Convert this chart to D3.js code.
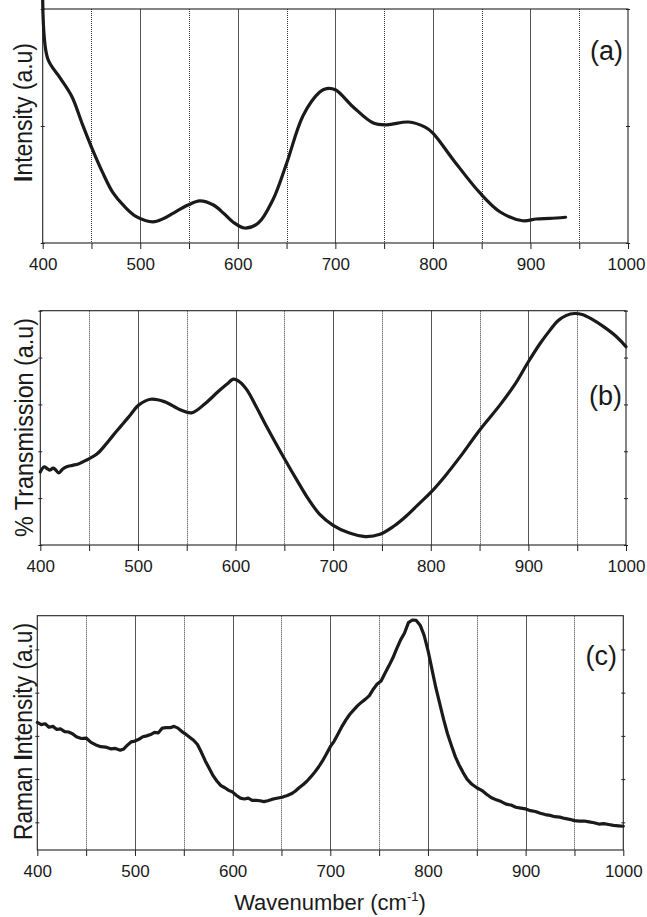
<!DOCTYPE html>
<html>
<head>
<meta charset="utf-8">
<script src="https://cdn.jsdelivr.net/npm/d3@7"></script>
<style>
  body { margin: 0; background: #fff; }
  svg { display: block; font-family: "Liberation Sans", Arial, sans-serif; }
</style>
</head>
<body>
<div id="chart"></div>
<script>
// ---- data ----
const xTicks = [400, 450, 500, 550, 600, 650, 700, 750, 800, 850, 900, 950, 1000];
const xLabels = [400, 500, 600, 700, 800, 900, 1000];

// (a) intensity, arbitrary units, y ticks 0..2
const yTicksA = [0, 1, 2];
const seriesA = [
  [400, 2.08], [405, 1.58], [418, 1.41], [430, 1.25], [440, 1.03], [450, 0.82],
  [461, 0.61], [472, 0.43], [484, 0.31], [496, 0.225], [513, 0.18], [524, 0.21],
  [534, 0.256], [548, 0.32], [561, 0.36], [575, 0.325], [586, 0.25], [595, 0.18],
  [607, 0.128], [621, 0.17], [636, 0.37], [650, 0.68], [667, 1.09], [684, 1.29],
  [691, 1.32], [700, 1.31], [718, 1.165], [739, 1.025], [753, 1.01], [775, 1.034],
  [792, 0.99], [800, 0.94], [821, 0.71], [848, 0.43], [869, 0.265], [892, 0.19],
  [906, 0.205], [920, 0.21], [936, 0.22]
];

// (b) % transmission, y ticks 0..5
const yTicksB = [0, 1, 2, 3, 4, 5];
const seriesB = [
  [400, 1.56], [404, 1.67], [407, 1.63], [410, 1.60], [413, 1.64], [415, 1.62],
  [419, 1.54], [423, 1.62], [427, 1.67], [433, 1.70], [439, 1.73], [448, 1.82],
  [458, 1.94], [466, 2.12], [475, 2.35], [484, 2.57], [492, 2.77], [501, 2.99],
  [513, 3.11], [527, 3.06], [544, 2.88], [555, 2.82], [569, 3.02], [582, 3.27],
  [591, 3.43], [598, 3.54], [605, 3.47], [612, 3.30], [620, 3.00], [630, 2.60],
  [651, 1.81], [663, 1.38], [674, 1.00], [686, 0.66], [700, 0.42], [716, 0.26],
  [733, 0.18], [748, 0.23], [762, 0.40], [775, 0.62], [790, 0.92], [799, 1.10],
  [815, 1.48], [830, 1.88], [850, 2.45], [871, 2.99], [886, 3.42], [900, 3.91],
  [912, 4.30], [922, 4.58], [930, 4.78], [939, 4.90], [947, 4.94], [955, 4.92],
  [965, 4.82], [977, 4.66], [990, 4.45], [1000, 4.23]
];

// (c) Raman intensity, y ticks 1..5
const yTicksC = [1, 2, 3, 4, 5];
const seriesC = [
  [400, 3.31], [404, 3.26], [408, 3.28], [412, 3.20], [416, 3.22], [420, 3.15],
  [424, 3.16], [428, 3.10], [432, 3.09], [436, 3.05], [440, 2.98], [445, 2.94],
  [450, 2.95], [455, 2.85], [460, 2.79], [465, 2.75], [470, 2.74], [475, 2.70],
  [480, 2.71], [485, 2.67], [488, 2.69], [492, 2.78], [496, 2.86], [500, 2.88],
  [504, 2.92], [508, 2.98], [512, 3.00], [516, 3.03], [520, 3.08], [524, 3.07],
  [528, 3.18], [532, 3.19], [536, 3.19], [540, 3.22], [544, 3.18], [548, 3.10],
  [552, 3.04], [556, 2.97], [560, 2.90], [564, 2.80], [568, 2.62], [572, 2.42],
  [576, 2.25], [580, 2.08], [584, 1.95], [588, 1.85], [592, 1.80], [596, 1.74],
  [600, 1.70], [604, 1.62], [608, 1.56], [612, 1.54], [616, 1.56], [620, 1.51],
  [624, 1.51], [628, 1.50], [632, 1.48], [636, 1.50], [640, 1.53], [644, 1.55],
  [648, 1.57], [652, 1.59], [656, 1.62], [660, 1.66], [664, 1.72], [668, 1.80],
  [672, 1.87], [676, 1.95], [680, 2.05], [684, 2.16], [688, 2.28], [692, 2.42],
  [696, 2.58], [700, 2.75], [704, 2.88], [708, 3.05], [712, 3.22], [716, 3.37],
  [720, 3.50], [724, 3.60], [728, 3.70], [732, 3.78], [736, 3.85], [740, 3.93],
  [744, 4.08], [748, 4.20], [752, 4.27], [756, 4.45], [760, 4.62], [764, 4.80],
  [768, 5.02], [772, 5.22], [776, 5.38], [780, 5.62], [784, 5.68], [788, 5.67],
  [792, 5.56], [796, 5.33], [800, 4.98], [804, 4.55], [808, 4.12], [812, 3.75],
  [816, 3.38], [820, 3.05], [824, 2.78], [828, 2.52], [832, 2.32], [836, 2.15],
  [840, 2.00], [845, 1.88], [850, 1.80], [855, 1.74], [860, 1.65], [865, 1.57],
  [870, 1.52], [875, 1.48], [880, 1.42], [885, 1.40], [890, 1.35], [895, 1.33],
  [900, 1.31], [905, 1.27], [910, 1.25], [915, 1.21], [920, 1.18], [925, 1.16],
  [930, 1.13], [935, 1.12], [940, 1.09], [945, 1.07], [950, 1.04], [955, 1.03],
  [960, 1.03], [965, 1.01], [970, 0.99], [975, 0.96], [980, 0.97], [985, 0.95],
  [990, 0.93], [995, 0.92], [1000, 0.91]
];

const width = 647, height = 917;

const svg = d3.select('#chart').append('svg')
  .attr('width', width)
  .attr('height', height);

const panels = [
  { id: 'a', left: 42.7, right: 628, top: 9, bottom: 243, yDomain: [0, 2], yTicks: yTicksA,
    data: seriesA, curve: d3.curveCatmullRom.alpha(0.5), tag: '(a)', tagX: 623, tagY: 60,
    yTitle: ['I', 'ntensity (a.u)'], yTitleX: 32, yTitleY: 112.5, yTitleLen: 139 },
  { id: 'b', left: 40.3, right: 626, top: 310.7, bottom: 545, yDomain: [0, 5], yTicks: yTicksB,
    data: seriesB, curve: d3.curveCatmullRom.alpha(0.5), tag: '(b)', tagX: 622, tagY: 405,
    yTitle: ['% Transmission (a.u)'], yTitleX: 33, yTitleY: 427.5, yTitleLen: 219 },
  { id: 'c', left: 37.3, right: 623.3, top: 615.7, bottom: 850, yDomain: [0.36, 5.78], yTicks: yTicksC,
    data: seriesC, curve: d3.curveLinear, tag: '(c)', tagX: 617, tagY: 665,
    yTitle: ['Raman ', 'I', 'ntensity (a.u)'], yTitleX: 32, yTitleY: 731.5, yTitleLen: 217 }
];

panels.forEach(p => {
  const x = d3.scaleLinear().domain([400, 1000]).range([p.left, p.right]);
  const y = d3.scaleLinear().domain(p.yDomain).range([p.bottom, p.top]);
  const g = svg.append('g').attr('class', 'panel-' + p.id);

  // vertical grid lines, solid at hundreds, dotted at fifties
  g.selectAll('.grid')
    .data(xTicks.slice(1, -1))
    .enter()
    .append('line')
    .attr('class', 'grid')
    .attr('x1', d => Math.round(x(d)) + 0.5)
    .attr('x2', d => Math.round(x(d)) + 0.5)
    .attr('y1', p.top)
    .attr('y2', p.bottom)
    .attr('stroke', d => d % 100 === 0 ? '#555' : '#333')
    .attr('stroke-width', 1)
    .attr('stroke-dasharray', d => d % 100 === 0 ? null : '1,1');

  // bottom axis
  const xAxis = g.append('g')
    .attr('transform', `translate(0,${p.bottom})`)
    .call(d3.axisBottom(x)
      .tickValues(xTicks)
      .tickSize(6)
      .tickSizeOuter(0)
      .tickFormat(d => xLabels.includes(d) ? d : ''));
  xAxis.select('.domain').remove();
  xAxis.selectAll('line').attr('stroke', '#222');
  xAxis.selectAll('text')
    .attr('y', 27)
    .attr('dy', 0)
    .attr('fill', '#1a1a1a')
    .style('font-size', '17px')
    .style('font-family', '"Liberation Sans", Arial, sans-serif');
  // keep "1000" inside the page as the original does
  xAxis.selectAll('.tick')
    .filter(d => d === 1000)
    .select('text')
    .attr('x', Math.min(0, 626 - x(1000)));

  // y ticks on both sides, small, no labels
  const yLeft = g.append('g')
    .attr('transform', `translate(${p.left + 2},0)`)
    .call(d3.axisLeft(y).tickValues(p.yTicks).tickSize(4).tickFormat(''));
  yLeft.select('.domain').remove();
  yLeft.selectAll('line').attr('stroke', '#222');

  const yRight = g.append('g')
    .attr('transform', `translate(${p.right - 2},0)`)
    .call(d3.axisRight(y).tickValues(p.yTicks).tickSize(4).tickFormat(''));
  yRight.select('.domain').remove();
  yRight.selectAll('line').attr('stroke', '#222');

  // frame
  g.append('rect')
    .attr('x', p.left)
    .attr('y', p.top)
    .attr('width', p.right - p.left)
    .attr('height', p.bottom - p.top)
    .attr('fill', 'none')
    .attr('stroke', '#222')
    .attr('stroke-width', 1.1);

  // spectrum
  const line = d3.line()
    .x(d => x(d[0]))
    .y(d => y(d[1]))
    .curve(p.curve);

  g.append('path')
    .datum(p.data)
    .attr('d', line)
    .attr('fill', 'none')
    .attr('stroke', '#1a1a1a')
    .attr('stroke-width', 3.2)
    .attr('stroke-linejoin', 'round')
    .attr('stroke-linecap', 'round');

  // panel tag
  g.append('text')
    .attr('x', p.tagX)
    .attr('y', p.tagY)
    .attr('text-anchor', 'end')
    .style('font-size', '27px')
    .attr('fill', '#1a1a1a')
    .text(p.tag);

  // y title, the "I" of Intensity is set heavier in the original
  const yt = g.append('text')
    .attr('transform', `translate(${p.yTitleX},${p.yTitleY}) rotate(-90)`)
    .attr('text-anchor', 'middle')
    .attr('textLength', p.yTitleLen)
    .attr('lengthAdjust', 'spacingAndGlyphs')
    .attr('fill', '#1a1a1a')
    .style('font-size', '25px');
  p.yTitle.forEach(s => {
    yt.append('tspan')
      .style('font-weight', s === 'I' ? 'bold' : 'normal')
      .text(s);
  });
});

// x title under the last panel
const xt = svg.append('text')
  .attr('x', 330)
  .attr('y', 910)
  .attr('text-anchor', 'middle')
  .attr('fill', '#1a1a1a')
  .style('font-size', '22px');
xt.append('tspan').text('Wavenumber (cm');
xt.append('tspan').attr('dy', -9).style('font-size', '13px').text('-1');
xt.append('tspan').attr('dy', 9).text(')');
</script>
</body>
</html>
